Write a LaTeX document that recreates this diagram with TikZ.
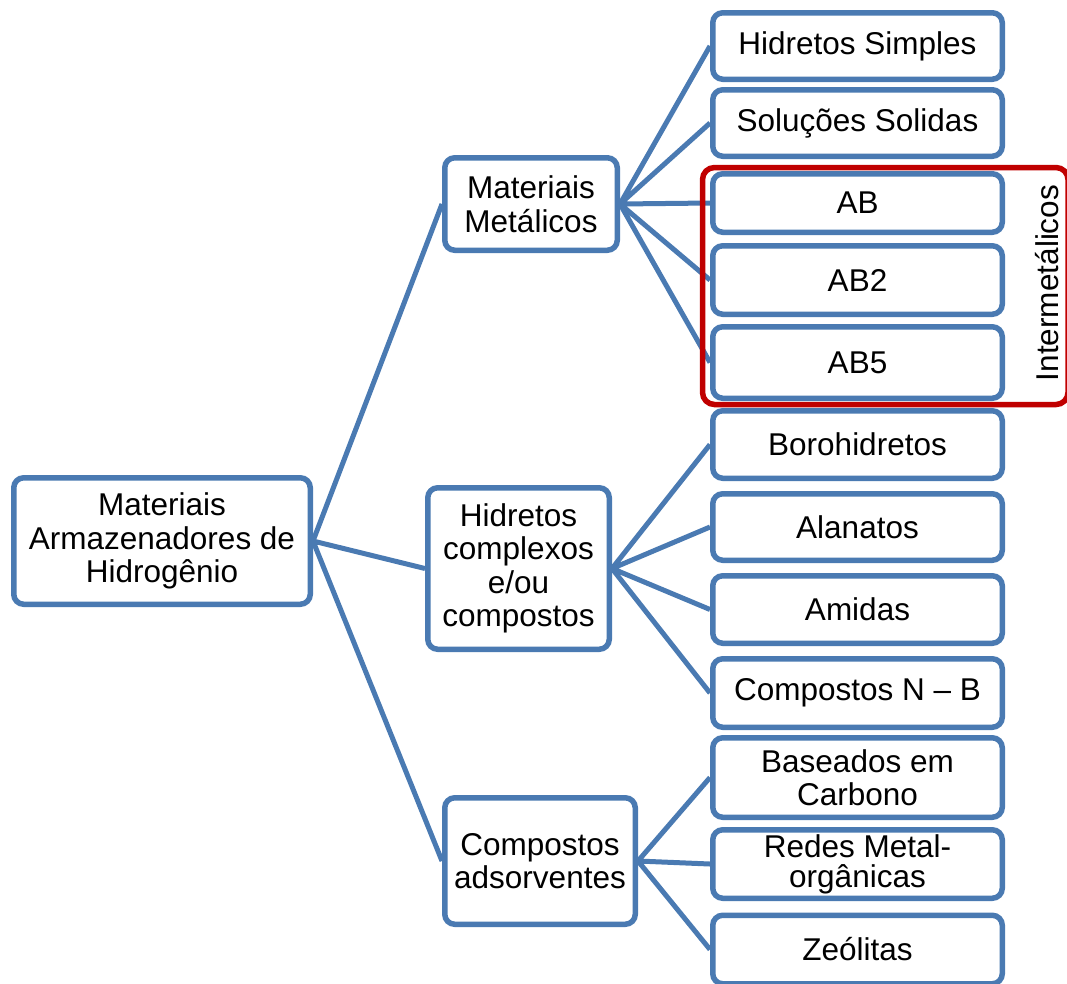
\documentclass[tikz,border=0pt]{standalone}
\usepackage{fontspec}
\setmainfont{Liberation Sans}
\definecolor{boxblue}{RGB}{74,122,178}
\definecolor{groupred}{RGB}{192,0,0}
\begin{document}
\begin{tikzpicture}[x=1pt,y=-1pt,
  box/.style={draw=boxblue, line width=5.5pt, fill=white, rounded corners=10pt,
    inner sep=0pt, align=center, font=\fontsize{31.5}{33.5}\selectfont},
  leaf/.style={box, minimum width=289.5pt},
  link/.style={draw=boxblue, line width=5pt}]
\useasboundingbox (0,0) rectangle (1067,983);

% main levels
\node[box, minimum width=296.5pt, minimum height=126.5pt] (root) at (162,541)
  {Materiais\\Armazenadores de\\Hidrogênio};
\node[box, minimum width=172.5pt, minimum height=92.5pt] (met) at (531,204)
  {Materiais\\Metálicos};
\node[box, minimum width=181.5pt, minimum height=161.5pt] (hid) at (518.5,568.5)
  {Hidretos\\complexos\\e/ou\\compostos};
\node[box, minimum width=190.5pt, minimum height=126.5pt] (ads) at (540,861)
  {Compostos\\adsorventes};

% leaves
\node[leaf, minimum height=66.5pt] (hs) at (857.5,46) {Hidretos Simples};
\node[leaf, minimum height=66.5pt] (ss) at (857.5,123) {Soluções Solidas};
\node[leaf, minimum height=58.5pt] (ab) at (857.5,203) {AB};
\node[leaf, minimum height=68.5pt] (abb) at (857.5,280) {AB2};
\node[leaf, minimum height=71.5pt] (abv) at (857.5,362.5) {AB5};
\node[leaf, minimum height=67.5pt] (boro) at (857.5,444.5) {Borohidretos};
\node[leaf, minimum height=66.5pt] (alan) at (857.5,527) {Alanatos};
\node[leaf, minimum height=67.5pt] (amid) at (857.5,609.5) {Amidas};
\node[leaf, minimum height=68.5pt] (cnb) at (857.5,693) {Compostos N -- B};
\node[leaf, minimum height=79.5pt] (carb) at (857.5,777.5) {Baseados em\\Carbono};
\node[leaf, minimum height=68.5pt, font=\fontsize{31.5}{30}\selectfont] (mof) at (857.5,864)
  {Redes Metal-\\orgânicas};
\node[leaf, minimum height=68.5pt] (zeo) at (857.5,949.5) {Zeólitas};

% connectors
\path[link] (root.east) -- (met.west)
            (root.east) -- (hid.west)
            (root.east) -- (ads.west);
\path[link] (met.east) -- (hs.west)
            (met.east) -- (ss.west)
            (met.east) -- (ab.west)
            (met.east) -- (abb.west)
            (met.east) -- (abv.west);
\path[link] (hid.east) -- (boro.west)
            (hid.east) -- (alan.west)
            (hid.east) -- (amid.west)
            (hid.east) -- (cnb.west);
\path[link] (ads.east) -- (carb.west)
            (ads.east) -- (mof.west)
            (ads.east) -- (zeo.west);

% intermetallic group frame
\draw[groupred, line width=5.5pt, rounded corners=12pt] (702.5,167.5) rectangle (1068,404.5);
\node[rotate=90, font=\fontsize{31.5}{33.5}\selectfont, inner sep=0pt] (inter) at (1047,283) {Intermetálicos};
\end{tikzpicture}
\end{document}
